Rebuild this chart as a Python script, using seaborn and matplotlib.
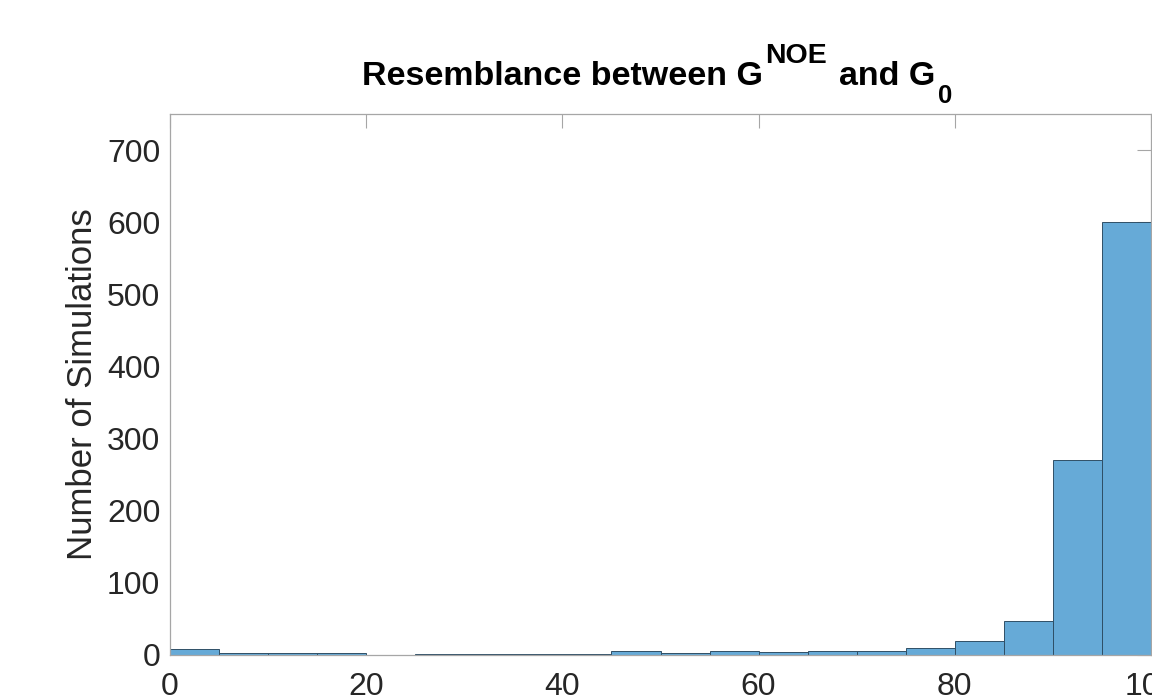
import numpy as np
import pandas as pd
import matplotlib
matplotlib.use("Agg")
import matplotlib.pyplot as plt
from matplotlib.transforms import IdentityTransform
import seaborn as sns

# Histogram counts per 5%-wide resemblance bin
bin_edges = [0, 5, 10, 15, 20, 25, 30, 35, 40, 45, 50,
             55, 60, 65, 70, 75, 80, 85, 90, 95, 100]
counts = [8, 3, 3, 3, 0, 2, 2, 2, 2, 6,
          3, 5, 4, 6, 6, 10, 20, 47, 271, 600]
x_ticks = [0, 20, 40, 60, 80, 100]
y_ticks = [0, 100, 200, 300, 400, 500, 600, 700]

# Title pieces: (text, font size in pt, baseline shift in px; + raises)
title_parts = [("Resemblance between G", 24.5, 0), ("NOE", 20.5, 22),
               (" and G", 24.5, 0), ("0", 18.5, -18)]

sns.set_style("white")
plt.rcParams["font.family"] = ["Liberation Sans", "DejaVu Sans"]

centers = [(a + b) / 2 for a, b in zip(bin_edges[:-1], bin_edges[1:])]
df = pd.DataFrame({"resemblance": centers, "n": counts})

W, H = 1152, 700
fig = plt.figure(figsize=(W / 100, H / 100), dpi=100)
ax = fig.add_axes([170 / W, 1 - 655 / H, 981 / W, (655 - 114) / H])

sns.histplot(data=df, x="resemblance", weights="n", bins=bin_edges,
             color="#66AAD7", alpha=1.0, edgecolor="#2f4f66", linewidth=0.7,
             ax=ax)

ax.set_xlim(0, 100)
ax.set_ylim(0, 750)
ax.set_xticks(x_ticks)
ax.set_yticks(y_ticks)
ax.set_xlabel("")
ax.set_ylabel("Number of Simulations", fontsize=25, color="#262626", labelpad=6)
ax.tick_params(axis="both", which="both", direction="in", length=10, width=0.8,
               color="#a6a6a6", labelsize=23, labelcolor="#262626",
               top=True, right=True)
ax.tick_params(axis="y", pad=7)
ax.tick_params(axis="x", pad=12)
for s in ax.spines.values():
    s.set_color("#a6a6a6")
    s.set_linewidth(0.9)

# Title laid out piece by piece so the super/subscript sit like the original
renderer = fig.canvas.get_renderer()
texts, widths = [], []
for s, size, dy in title_parts:
    lead = 0.30 * size * 100 / 72 if s.startswith(" ") else 0.0
    t = fig.text(0, 0, s.strip(), fontsize=size, fontweight="bold",
                 color="black", transform=IdentityTransform(),
                 ha="left", va="baseline")
    w = t.get_window_extent(renderer).width + lead
    texts.append((t, lead, dy))
    widths.append(w + 2)
total = sum(widths)
center_x = 658
base_y = H - 85
x = center_x - total / 2
for (t, lead, dy), w in zip(texts, widths):
    t.set_position((x + lead, base_y + dy))
    x += w

fig.savefig("out.png", dpi=100)
